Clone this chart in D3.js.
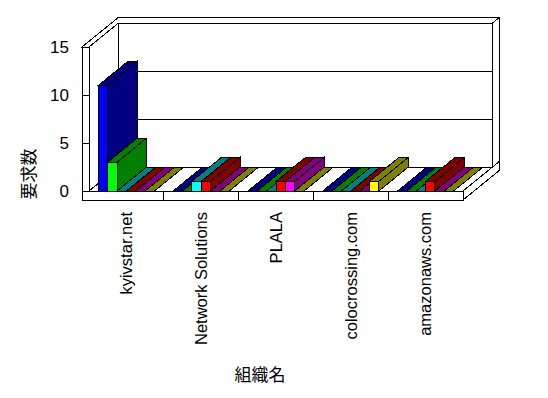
<!DOCTYPE html>
<html>
<head>
<meta charset="utf-8">
<script src="https://cdn.jsdelivr.net/npm/d3@7"></script>
<style>
  body { margin: 0; background: #fff; }
  svg text { font-family: "Liberation Sans", Arial, sans-serif; fill: #000; }
</style>
</head>
<body>
<div id="drawarea"></div>
<script>
// chart values
const categories = ["kyivstar.net", "Network Solutions", "PLALA", "colocrossing.com", "amazonaws.com"];
const series1 = [11, 0, 0, 0, 0];
const series2 = [3, 0, 0, 0, 0];
const series3 = [0, 1, 0, 0, 0];
const series4 = [0, 1, 1, 0, 1];
const series5 = [0, 0, 1, 0, 0];
const series6 = [0, 0, 0, 1, 0];
const yTicks = [0, 5, 10, 15];

const allSeries = [series1, series2, series3, series4, series5, series6];
const frontColors = ["#0000ff", "#00ff00", "#00ffff", "#ff0000", "#ff00ff", "#ffff00"];
const darkColors = ["#000080", "#008000", "#008080", "#800000", "#800080", "#808000"];

let svg = d3.select("div#drawarea").append("svg")
    .attr("width", 548)
    .attr("height", 398);

// depth offset of the back plane, wall thickness
const DX = 29.5, DY = 24;
const T = 7;
const tz = T / DX;
const left = 89, right = 463;

let x = d3.scaleBand().domain(categories).range([left, right]);
let xs = d3.scaleBand().domain(d3.range(allSeries.length)).range([0, x.bandwidth()]).paddingOuter(1);
let y = d3.scaleLinear().domain([0, 15]).range([191, 47]);
const y0 = y(0), yTop = y(15), yBot = y0 + 9;

function p(px, py, z) { return [px + z * DX, py - z * DY]; }
function poly(pts, fill, stroke) {
    return svg.append("polygon")
        .attr("points", pts.map(d => d.join(",")).join(" "))
        .attr("fill", fill)
        .attr("stroke", stroke || "#000")
        .attr("stroke-width", 1)
        .attr("shape-rendering", "crispEdges");
}
function line(a, b) {
    svg.append("line")
        .attr("x1", a[0]).attr("y1", a[1]).attr("x2", b[0]).attr("y2", b[1])
        .attr("stroke", "#000").attr("shape-rendering", "crispEdges");
}

//walls and floor
poly([p(left, y0, 1), p(left, yTop, 1), p(right, yTop, 1), p(right, y0, 1)], "#fff");
yTicks.filter(t => t > 0 && t < 15).forEach(t => line(p(left, y(t), 1), p(right, y(t), 1)));
poly([p(left, y0, 0), p(left, yTop, 0), p(left, yTop, 1), p(left, y0, 1)], "#fff");
poly([p(left, y0, 0), p(right, y0, 0), p(right, y0, 1), p(left, y0, 1)], "#fff");
poly([p(left - T, yTop, 0), p(left, yTop, 0), p(left, yTop, 1), p(right, yTop, 1),
      p(right, yTop, 1 + tz), p(left - T, yTop, 1 + tz)], "#fff");
poly([p(right, y0, 0), p(right, yBot, 0), p(right, yBot, 1 + tz), p(right, y0, 1 + tz)], "#fff");
poly([p(right, y0, 1), p(right, yTop, 1), p(right, yTop, 1 + tz), p(right, y0, 1 + tz)], "#fff");
svg.append("rect").attr("x", left - T).attr("y", yTop).attr("width", T).attr("height", y0 - yTop)
    .attr("fill", "#fff").attr("stroke", "#000").attr("shape-rendering", "crispEdges");
svg.append("rect").attr("x", left - T).attr("y", y0).attr("width", right - left + T).attr("height", yBot - y0)
    .attr("fill", "#fff").attr("stroke", "#000").attr("shape-rendering", "crispEdges");
yTicks.forEach(t => line([left - T, y(t)], [left, y(t)]));
categories.slice(1).forEach(c => line([x(c), y0], [x(c), yBot]));

//bars, drawn left to right so the next bar hides the side of the last one
categories.forEach((c, ci) => {
    allSeries.forEach((s, si) => {
        let v = s[ci];
        let bx = x(c) + xs(si), w = xs.bandwidth(), yv = y(v);
        if (v > 0) {
            poly([p(bx + w, yv, 0), p(bx + w, y0, 0), p(bx + w, y0, 1), p(bx + w, yv, 1)], darkColors[si]);
        }
        poly([p(bx, yv, 0), p(bx + w, yv, 0), p(bx + w, yv, 1), p(bx, yv, 1)], darkColors[si]);
        if (v > 0) {
            svg.append("rect").attr("x", bx).attr("y", yv).attr("width", w).attr("height", y0 - yv)
                .attr("fill", frontColors[si]).attr("stroke", "#000").attr("shape-rendering", "crispEdges");
        }
    });
});

//tick labels
svg.selectAll("text.ytick").data(yTicks).enter().append("text")
    .attr("class", "ytick")
    .attr("x", 69).attr("y", d => y(d)).attr("dy", "0.35em")
    .attr("text-anchor", "end").attr("font-size", 17)
    .text(d => d);

svg.selectAll("text.xtick").data(categories).enter().append("text")
    .attr("class", "xtick")
    .attr("transform", d => "translate(" + (x(d) + x.bandwidth() / 2) + ",212) rotate(-90)")
    .attr("dy", "0.35em")
    .attr("text-anchor", "end").attr("font-size", 16.5)
    .text(d => d);

//axis titles
svg.append("text")
    .attr("transform", "translate(29,174) rotate(-90)")
    .attr("dy", "0.35em").attr("text-anchor", "middle")
    .style("font-family", "'Noto Sans CJK JP', sans-serif").attr("font-size", 17)
    .text("要求数");
svg.append("text")
    .attr("x", 260).attr("y", 381).attr("text-anchor", "middle")
    .style("font-family", "'Noto Sans CJK JP', sans-serif").attr("font-size", 17)
    .text("組織名");
</script>
</body>
</html>
